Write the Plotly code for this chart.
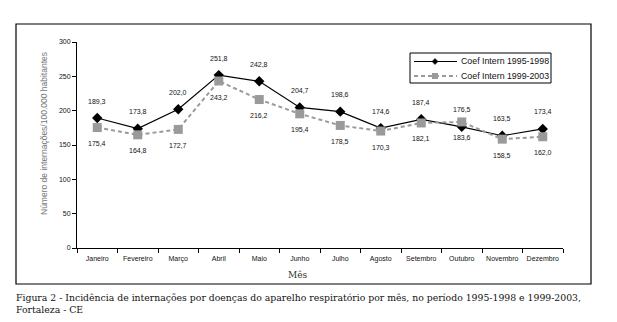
import plotly.graph_objects as go

# Monthly hospitalisation rates for respiratory diseases (per 100,000 inhabitants)
months = ["Janeiro", "Fevereiro", "Março", "Abril", "Maio", "Junho",
          "Julho", "Agosto", "Setembro", "Outubro", "Novembro", "Dezembro"]
coef_1995_1998 = [189.3, 173.8, 202.0, 251.8, 242.8, 204.7,
                  198.6, 174.6, 187.4, 176.5, 163.5, 173.4]
coef_1999_2003 = [175.4, 164.8, 172.7, 243.2, 216.2, 195.4,
                  178.5, 170.3, 182.1, 183.6, 158.5, 162.0]
series_names = ["Coef Intern 1995-1998", "Coef Intern 1999-2003"]
y_ticks = [0, 50, 100, 150, 200, 250, 300]

W, H = 617, 322
L, R, T, B = 77, 54, 42, 74
pw, ph = W - L - R, H - T - B


def px_x(p):
    return (p - L) / pw


def px_y(p):
    return (H - B - p) / ph


def fmt(v):
    return f"{v:.1f}".replace(".", ",")


tick_font = dict(family="Liberation Sans", size=7, color="#111")
BLACK, GRAY = "black", "#9a9a9a"
black_line = dict(color=BLACK, width=1.2)
gray_line = dict(color=GRAY, width=2, dash="4px,3px")

fig = go.Figure()
fig.add_trace(go.Scatter(
    x=months, y=coef_1995_1998, name=series_names[0],
    mode="lines+markers", line=black_line,
    marker=dict(symbol="diamond", size=8, color=BLACK),
))
fig.add_trace(go.Scatter(
    x=months, y=coef_1999_2003, name=series_names[1],
    mode="lines+markers", line=gray_line,
    marker=dict(symbol="square", size=9, color=GRAY),
))

annotations = []
for m, v in zip(months, coef_1995_1998):
    annotations.append(dict(x=m, y=v, xref="x", yref="y", text=fmt(v),
                            showarrow=False, yshift=17, font=tick_font))
for m, v in zip(months, coef_1999_2003):
    annotations.append(dict(x=m, y=v, xref="x", yref="y", text=fmt(v),
                            showarrow=False, yshift=-16, font=tick_font))

annotations.append(dict(
    x=px_x(44), y=px_y(134), xref="paper", yref="paper",
    xanchor="center", yanchor="middle",
    text="Número de internações/100.000 habitantes", textangle=-90,
    showarrow=False, font=dict(family="Liberation Sans", size=8.5, color="#777"),
))
annotations.append(dict(
    x=px_x(298), y=px_y(275), xref="paper", yref="paper",
    xanchor="center", yanchor="middle", text="Mês",
    showarrow=False, font=dict(family="DejaVu Serif", size=9, color="#333"),
))
annotations.append(dict(
    x=px_x(14), y=px_y(290), xref="paper", yref="paper",
    xanchor="left", yanchor="top", align="left",
    text="Figura 2 - Incidência de internações por doenças do aparelho respiratório por mês, "
         "no período 1995-1998 e 1999-2003,<br>Fortaleza - CE",
    showarrow=False,
    font=dict(family="DejaVu Serif", size=9.3, color="#111"),
))

# Compact boxed legend (line sample, symbol, label per series)
shapes = [
    dict(type="rect", xref="paper", yref="paper",
         x0=px_x(16), x1=px_x(591), y0=px_y(284), y1=px_y(24),
         line=dict(color="black", width=1.2)),
    dict(type="rect", xref="paper", yref="paper",
         x0=px_x(410), x1=px_x(551), y0=px_y(83), y1=px_y(53),
         line=dict(color="black", width=1), fillcolor="white", layer="above"),
]
legend_rows = [
    (series_names[0], black_line, "diamond", BLACK, 61.5),
    (series_names[1], gray_line, "square", GRAY, 76),
]
for name, ln, sym, col, ry in legend_rows:
    shapes.append(dict(type="line", xref="paper", yref="paper",
                       x0=px_x(414), x1=px_x(457), y0=px_y(ry), y1=px_y(ry),
                       line=ln, layer="above"))
    if sym == "diamond":
        path = (f"M {px_x(435)},{px_y(ry - 3)} L {px_x(438)},{px_y(ry)} "
                f"L {px_x(435)},{px_y(ry + 3)} L {px_x(432)},{px_y(ry)} Z")
        shapes.append(dict(type="path", xref="paper", yref="paper", path=path,
                           fillcolor=col, line=dict(color=col, width=0.5),
                           layer="above"))
    else:
        shapes.append(dict(type="rect", xref="paper", yref="paper",
                           x0=px_x(432), x1=px_x(438), y0=px_y(ry + 3), y1=px_y(ry - 3),
                           fillcolor=col, line=dict(color=col, width=0),
                           layer="above"))
    annotations.append(dict(
        x=px_x(459), y=px_y(ry), xref="paper", yref="paper",
        xanchor="left", yanchor="middle", text=name, showarrow=False,
        font=dict(family="Liberation Sans", size=8.8, color="#111"),
    ))

fig.update_layout(
    width=W, height=H,
    margin=dict(l=L, r=R, t=T, b=B),
    paper_bgcolor="white", plot_bgcolor="white",
    showlegend=False,
    annotations=annotations,
    shapes=shapes,
    xaxis=dict(
        type="category", range=[-0.5, 11.5], tickson="boundaries",
        tickangle=0, ticklabelstandoff=4,
        showline=True, linecolor="black", linewidth=1,
        ticks="outside", ticklen=4, tickcolor="black",
        showgrid=False, zeroline=False, tickfont=tick_font,
    ),
    yaxis=dict(
        range=[0, 300], tickvals=y_ticks,
        showline=True, linecolor="black", linewidth=1,
        ticks="outside", ticklen=4, tickcolor="black",
        showgrid=False, zeroline=False, tickfont=tick_font,
    ),
)

fig.write_html("out.html")
